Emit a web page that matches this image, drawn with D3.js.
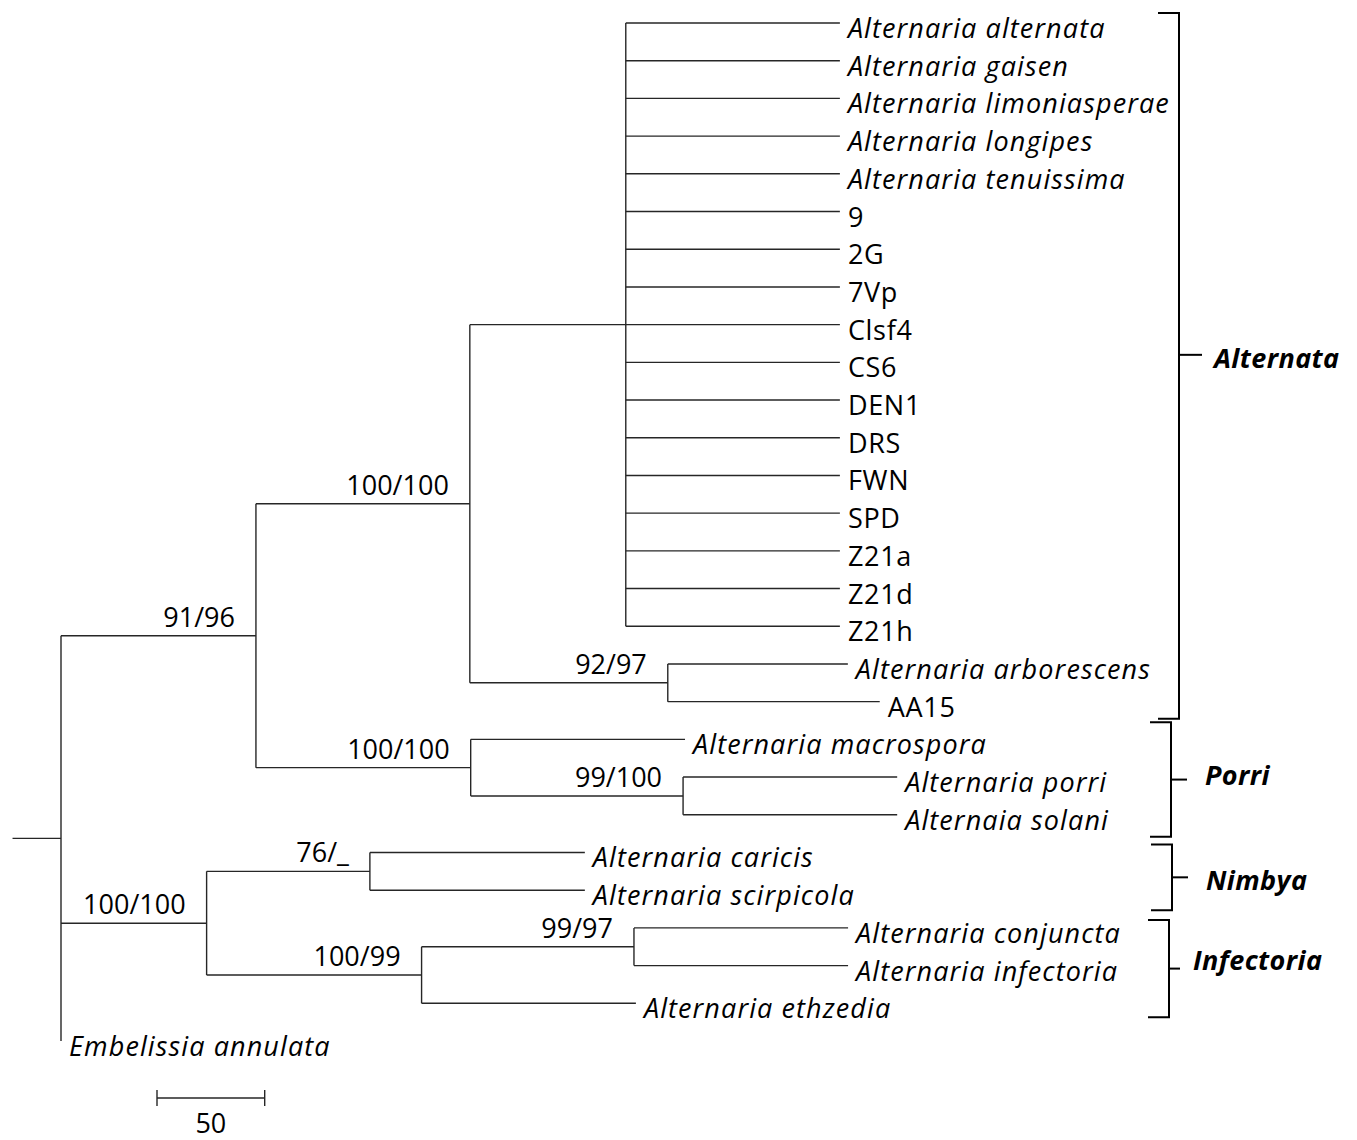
<!DOCTYPE html>
<html>
<head>
<meta charset="utf-8">
<script src="https://cdn.jsdelivr.net/npm/d3@7"></script>
<style>
  html, body { margin: 0; padding: 0; background: #fff; }
  svg { display: block; }
  text { font-family: "Open Sans", Lato, sans-serif; fill: #000; }
</style>
</head>
<body>
<svg id="chart" width="1357" height="1140"></svg>
<script>
// Tree topology: node ids, their parents, branch lengths and bootstrap support
const nodeIds = [
  "root", "n91", "n100a", "alt",
  "Alternaria alternata", "Alternaria gaisen", "Alternaria limoniasperae", "Alternaria longipes",
  "Alternaria tenuissima", "9", "2G", "7Vp", "Clsf4", "CS6", "DEN1", "DRS", "FWN", "SPD",
  "Z21a", "Z21d", "Z21h",
  "n92", "Alternaria arborescens", "AA15",
  "n100p", "Alternaria macrospora", "n99", "Alternaria porri", "Alternaia solani",
  "n100b", "n76", "Alternaria caricis", "Alternaria scirpicola",
  "n100i", "n99i", "Alternaria conjuncta", "Alternaria infectoria", "Alternaria ethzedia",
  "Embelissia annulata"
];
const parentIds = [
  "", "root", "n91", "n100a",
  "alt", "alt", "alt", "alt",
  "alt", "alt", "alt", "alt", "alt", "alt", "alt", "alt", "alt", "alt",
  "alt", "alt", "alt",
  "n100a", "n92", "n92",
  "n91", "n100p", "n100p", "n99", "n99",
  "root", "n100b", "n76", "n76",
  "n100b", "n100i", "n99i", "n99i", "n100i",
  "root"
];
const branchLengths = [
  0, 90.5, 99.3, 72.4,
  99.4, 99.4, 99.4, 99.4,
  99.4, 99.4, 99.4, 99.4, 99.4, 99.4, 99.4, 99.4, 99.4, 99.4,
  99.4, 99.4, 99.4,
  91.9, 83.6, 98.4,
  99.7, 99.5, 98.6, 99.4, 99.4,
  67.6, 75.8, 99.8, 99.8,
  99.8, 98.6, 99.4, 99.4, 99.5,
  0
];
const supportLabels = [
  "", "91/96", "100/100", "",
  "", "", "", "",
  "", "", "", "", "", "", "", "", "", "",
  "", "", "",
  "92/97", "", "",
  "100/100", "", "99/100", "", "",
  "100/100", "76/_", "", "",
  "100/99", "99/97", "", "", "",
  ""
];
// Clade brackets on the right: name, first and last member
const cladeNames = ["Alternata", "Porri", "Nimbya", "Infectoria"];
const cladeFirst = ["Alternaria alternata", "Alternaria macrospora", "Alternaria caricis", "Alternaria conjuncta"];
const cladeLast = ["AA15", "Alternaia solani", "Alternaria scirpicola", "Alternaria ethzedia"];
const scaleBarValue = 50;
const rootStub = 22.5;

const svg = d3.select("#chart");

const rows = nodeIds.map((id, i) => ({
  id, parent: parentIds[i] || null, length: branchLengths[i], support: supportLabels[i]
}));
const root = d3.stratify().id(d => d.id).parentId(d => d.parent)(rows);

// cumulative distance from the root
root.each(n => { n.dist = n.parent ? n.parent.dist + n.data.length : 0; });

const leaves = root.leaves();
const y = d3.scalePoint().domain(leaves.map(d => d.id)).range([23, 1041]);
const x = d3.scaleLinear().domain([0, 50]).range([61, 61 + 107.7]);

// vertical position: leaves from the point scale, internal nodes midway between outer children
root.eachAfter(n => {
  if (!n.children) n.py = y(n.id);
  else n.py = (n.children[0].py + n.children[n.children.length - 1].py) / 2;
  n.px = x(n.dist);
});

const g = svg.append("g");
const lineColor = "#262626";
const lw = 1.4;

// root stub
g.append("line")
  .attr("x1", x(-rootStub)).attr("x2", x(0))
  .attr("y1", root.py).attr("y2", root.py)
  .attr("stroke", lineColor).attr("stroke-width", lw);

// vertical connectors
g.selectAll("line.v").data(root.descendants().filter(d => d.children))
  .join("line").attr("class", "v")
  .attr("x1", d => d.px).attr("x2", d => d.px)
  .attr("y1", d => d3.min(d.children, c => c.py))
  .attr("y2", d => d3.max(d.children, c => c.py))
  .attr("stroke", lineColor).attr("stroke-width", lw);

// horizontal branches
g.selectAll("line.h").data(root.descendants().filter(d => d.parent))
  .join("line").attr("class", "h")
  .attr("x1", d => d.parent.px).attr("x2", d => d.px)
  .attr("y1", d => d.py).attr("y2", d => d.py)
  .attr("stroke", lineColor).attr("stroke-width", lw);

// leaf names: species in italics, isolate codes upright
const isSpecies = d => d.id.includes(" ");
g.selectAll("text.leaf").data(leaves)
  .join("text").attr("class", "leaf")
  .attr("x", d => d.px + 8)
  .attr("y", d => d.py + 15)
  .attr("font-size", 27)
  .attr("font-style", d => isSpecies(d) ? "italic" : "normal")
  .attr("letter-spacing", d => isSpecies(d) ? 1.1 : 0.7)
  .text(d => d.id);

// bootstrap support values
g.selectAll("text.sup").data(root.descendants().filter(d => d.data.support))
  .join("text").attr("class", "sup")
  .attr("x", d => d.px - 21)
  .attr("y", d => d.py - 9)
  .attr("text-anchor", "end")
  .attr("font-size", 27)
  .text(d => d.data.support);

// clade brackets
const bracketX = [1179, 1171, 1172, 1169];
const bracketTopPad = [10, 17, 8, 8];
const bracketBotPad = [17, 22, 20, 14];
const tickShift = [-11, 0, 0, 0];
const tickLen = [23, 16, 16, 11];
const labelX = [1214, 1205, 1206, 1193];
const labelShift = [3, -5, 3, -9];
cladeNames.forEach((name, i) => {
  const top = y(cladeFirst[i]) - bracketTopPad[i];
  const bot = y(cladeLast[i]) + bracketBotPad[i];
  const bx = bracketX[i];
  const mid = (top + bot) / 2 + tickShift[i];
  const b = svg.append("g");
  b.append("path")
    .attr("d", `M${bx - 21},${top}H${bx}V${bot}H${bx - 21}`)
    .attr("fill", "none").attr("stroke", "#000").attr("stroke-width", 2);
  b.append("line")
    .attr("x1", bx).attr("x2", bx + tickLen[i])
    .attr("y1", mid).attr("y2", mid)
    .attr("stroke", "#000").attr("stroke-width", 2);
  b.append("text")
    .attr("x", labelX[i])
    .attr("y", mid + labelShift[i] + 10)
    .attr("font-size", 27)
    .attr("font-style", "italic").attr("font-weight", "bold")
    .attr("letter-spacing", 0.4)
    .text(name);
});

// scale bar
const sb = svg.append("g").attr("transform", "translate(157,1098)");
const barLen = x(scaleBarValue) - x(0);
sb.append("line").attr("x1", 0).attr("x2", barLen).attr("y1", 0).attr("y2", 0)
  .attr("stroke", lineColor).attr("stroke-width", lw);
[0, barLen].forEach(v => sb.append("line")
  .attr("x1", v).attr("x2", v).attr("y1", -8).attr("y2", 8)
  .attr("stroke", lineColor).attr("stroke-width", lw));
sb.append("text").attr("x", barLen / 2).attr("y", 35)
  .attr("text-anchor", "middle").attr("font-size", 27)
  .text(scaleBarValue);
</script>
</body>
</html>
